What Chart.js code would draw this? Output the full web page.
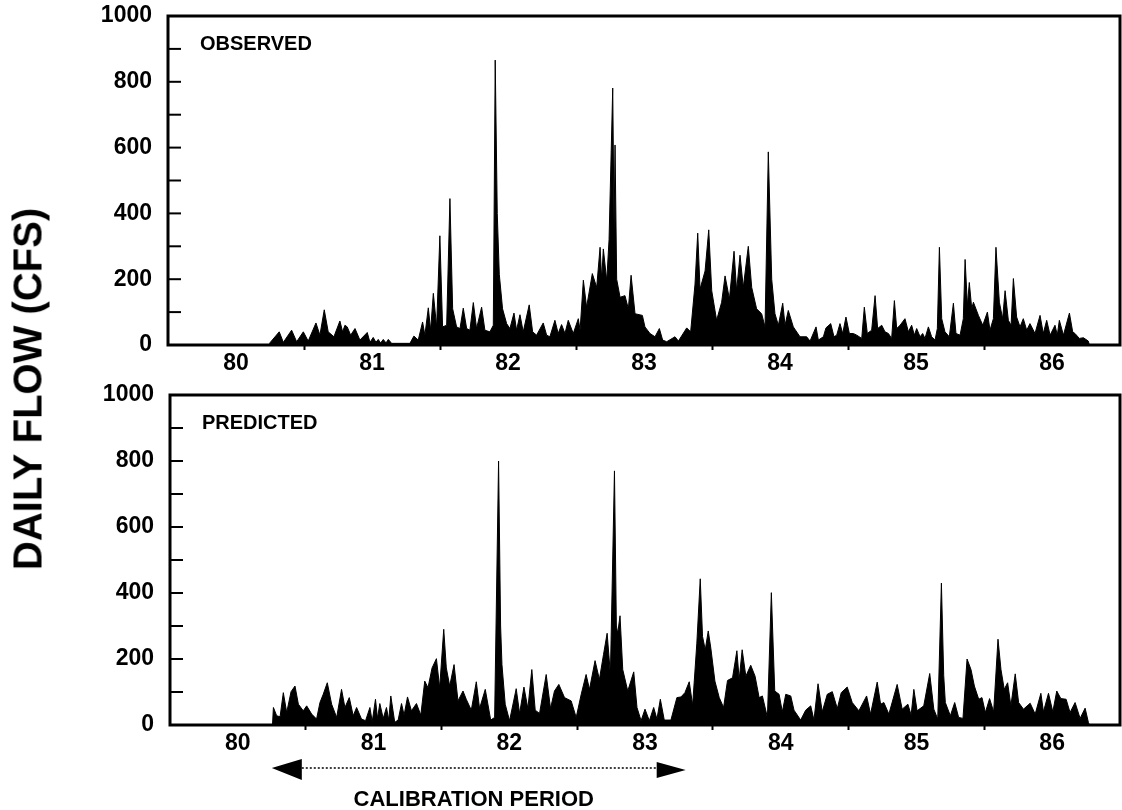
<!DOCTYPE html>
<html>
<head>
<meta charset="utf-8">
<script src="https://cdn.jsdelivr.net/npm/chart.js@4.4.1/dist/chart.umd.min.js"></script>
<style>
    html, body { margin: 0; padding: 0; background: #fff; }
    #wrap { position: relative; width: 1122px; height: 810px; overflow: hidden; }
    #topChart { position: absolute; left: 0; top: 0; }
    #bottomChart { position: absolute; left: 0; top: 380px; }
    #ylabel {
        position: absolute; left: 28px; top: 389px;
        transform: translate(-50%, -50%) rotate(-90deg);
        font: bold 40px "Liberation Sans", Arial, sans-serif;
        white-space: nowrap; color: #000;
    }
</style>
</head>
<body>
<div id="wrap">
    <canvas id="topChart" width="1122" height="380"></canvas>
    <canvas id="bottomChart" width="1122" height="430"></canvas>
    <div id="ylabel">DAILY FLOW (CFS)</div>
</div>
<script>
/** DATA */

const xTickValues = [80, 80.5, 81, 81.5, 82, 82.5, 83, 83.5, 84, 84.5, 85, 85.5, 86, 86.5, 87];
const yTickValues = [0, 100, 200, 300, 400, 500, 600, 700, 800, 900, 1000];
const calibStart = 80.75;
const calibEnd = 83.8;

// observed daily flow (cfs), time in decimal years
const obsYear = [
    80.745, 80.750, 80.818, 80.848, 80.909, 80.946, 80.995, 81.031, 81.088, 81.117,
    81.149, 81.178, 81.220, 81.264, 81.284, 81.301, 81.318, 81.343, 81.375, 81.411,
    81.465, 81.485, 81.509, 81.529, 81.546, 81.563, 81.583, 81.603, 81.620, 81.644,
    81.779, 81.808, 81.840, 81.872, 81.889, 81.914, 81.931, 81.951, 81.975, 81.999,
    82.019, 82.049, 82.073, 82.093, 82.122, 82.147, 82.171, 82.196, 82.220, 82.245,
    82.269, 82.306, 82.330, 82.367, 82.392, 82.406, 82.421, 82.436, 82.460, 82.490,
    82.514, 82.544, 82.563, 82.588, 82.612, 82.656, 82.681, 82.710, 82.759, 82.784,
    82.808, 82.845, 82.869, 82.894, 82.919, 82.943, 82.980, 83.017, 83.030, 83.054,
    83.078, 83.120, 83.152, 83.177, 83.189, 83.201, 83.226, 83.243, 83.270, 83.280,
    83.287, 83.299, 83.324, 83.360, 83.385, 83.405, 83.434, 83.488, 83.507, 83.544,
    83.581, 83.613, 83.637, 83.667, 83.728, 83.753, 83.814, 83.843, 83.875, 83.895,
    83.912, 83.949, 83.976, 83.998, 84.034, 84.071, 84.096, 84.128, 84.162, 84.181,
    84.206, 84.230, 84.267, 84.292, 84.328, 84.365, 84.390, 84.414, 84.439, 84.463,
    84.488, 84.520, 84.537, 84.561, 84.598, 84.647, 84.696, 84.721, 84.765, 84.782,
    84.819, 84.838, 84.873, 84.897, 84.917, 84.941, 84.961, 84.985, 85.010, 85.039,
    85.064, 85.101, 85.120, 85.142, 85.174, 85.199, 85.218, 85.248, 85.272, 85.297,
    85.321, 85.341, 85.358, 85.383, 85.419, 85.444, 85.468, 85.488, 85.505, 85.530,
    85.549, 85.566, 85.591, 85.615, 85.640, 85.657, 85.672, 85.689, 85.713, 85.745,
    85.775, 85.794, 85.824, 85.848, 85.861, 85.878, 85.892, 85.910, 85.922, 85.959,
    85.991, 86.025, 86.044, 86.069, 86.088, 86.113, 86.137, 86.155, 86.179, 86.199,
    86.216, 86.240, 86.265, 86.289, 86.314, 86.338, 86.375, 86.412, 86.436, 86.461,
    86.486, 86.522, 86.539, 86.554, 86.584, 86.628, 86.652, 86.669, 86.701, 86.731,
    86.767, 86.775
];
const obsFlow = [
    0, 7, 40, 8, 45, 10, 40, 12, 67, 30,
    107, 40, 25, 73, 40, 60, 55, 30, 50, 15,
    38, 8, 23, 8, 17, 6, 17, 6, 17, 5,
    5, 27, 15, 70, 30, 113, 45, 157, 55, 332,
    55, 60, 445, 110, 55, 50, 112, 50, 45, 129,
    50, 115, 45, 40, 60, 866, 400, 215, 110, 65,
    50, 97, 45, 92, 40, 122, 40, 30, 67, 30,
    25, 75, 35, 62, 35, 75, 35, 80, 45, 197,
    115, 217, 175, 297, 200, 292, 195, 320, 781, 350,
    608, 200, 145, 150, 110, 212, 95, 90, 55, 35,
    25, 50, 15, 10, 25, 12, 52, 40, 185, 340,
    170, 225, 350, 165, 75, 130, 210, 140, 285, 165,
    273, 175, 300, 175, 110, 95, 55, 587, 200, 95,
    60, 127, 60, 105, 55, 25, 25, 12, 55, 15,
    25, 52, 65, 25, 30, 65, 35, 85, 35, 35,
    30, 20, 115, 35, 45, 150, 50, 60, 40, 35,
    20, 135, 50, 60, 80, 40, 60, 30, 50, 25,
    35, 20, 55, 25, 15, 50, 297, 80, 40, 25,
    127, 35, 30, 80, 260, 120, 190, 110, 130, 90,
    60, 100, 45, 80, 297, 130, 80, 165, 75, 60,
    202, 85, 55, 80, 45, 65, 35, 90, 35, 75,
    30, 60, 30, 75, 30, 97, 40, 35, 20, 22,
    12, 0
];

// predicted daily flow (cfs)
const predYear = [
    80.755, 80.762, 80.786, 80.811, 80.835, 80.860, 80.892, 80.921, 80.946, 80.982,
    81.007, 81.044, 81.080, 81.105, 81.129, 81.159, 81.191, 81.228, 81.264, 81.289,
    81.321, 81.350, 81.375, 81.411, 81.441, 81.473, 81.490, 81.514, 81.529, 81.546,
    81.571, 81.595, 81.612, 81.627, 81.656, 81.681, 81.706, 81.725, 81.750, 81.779,
    81.816, 81.848, 81.877, 81.901, 81.931, 81.963, 81.987, 82.017, 82.036, 82.061,
    82.093, 82.122, 82.159, 82.183, 82.220, 82.257, 82.281, 82.323, 82.363, 82.392,
    82.421, 82.436, 82.446, 82.470, 82.502, 82.551, 82.576, 82.608, 82.637, 82.666,
    82.691, 82.723, 82.772, 82.804, 82.833, 82.865, 82.907, 82.956, 82.993, 83.030,
    83.066, 83.091, 83.132, 83.164, 83.194, 83.221, 83.245, 83.275, 83.289, 83.299,
    83.316, 83.336, 83.373, 83.417, 83.441, 83.471, 83.500, 83.532, 83.564, 83.588,
    83.613, 83.642, 83.691, 83.735, 83.765, 83.794, 83.826, 83.851, 83.882, 83.907,
    83.924, 83.944, 83.966, 83.985, 84.015, 84.047, 84.079, 84.108, 84.145, 84.177,
    84.194, 84.216, 84.243, 84.279, 84.311, 84.341, 84.365, 84.402, 84.431, 84.456,
    84.488, 84.512, 84.537, 84.574, 84.598, 84.647, 84.684, 84.721, 84.745, 84.775,
    84.806, 84.843, 84.880, 84.917, 84.946, 84.990, 85.027, 85.076, 85.133, 85.162,
    85.211, 85.236, 85.260, 85.297, 85.358, 85.395, 85.437, 85.461, 85.481, 85.505,
    85.554, 85.598, 85.628, 85.657, 85.684, 85.701, 85.713, 85.750, 85.782, 85.811,
    85.843, 85.873, 85.902, 85.927, 85.959, 85.983, 86.008, 86.039, 86.069, 86.101,
    86.123, 86.147, 86.172, 86.196, 86.228, 86.253, 86.289, 86.338, 86.375, 86.417,
    86.436, 86.473, 86.505, 86.534, 86.564, 86.603, 86.632, 86.669, 86.706, 86.743,
    86.767, 86.775
];
const predFlow = [
    0, 53, 28, 25, 98, 38, 101, 118, 63, 43,
    58, 33, 18, 68, 93, 128, 63, 23, 108, 53,
    83, 28, 53, 18, 13, 53, 10, 78, 20, 65,
    20, 53, 15, 88, 8, 15, 65, 30, 85, 43,
    65, 30, 133, 113, 173, 201, 113, 290, 173, 118,
    183, 73, 103, 78, 45, 131, 50, 108, 15, 23,
    800, 300, 183, 63, 13, 110, 35, 115, 50, 168,
    45, 35, 153, 50, 103, 123, 83, 73, 23, 93,
    153, 108, 195, 138, 213, 278, 153, 770, 300, 278,
    331, 168, 103, 161, 53, 13, 48, 13, 53, 18,
    78, 15, 15, 83, 85, 98, 131, 60, 248, 443,
    268, 228, 285, 233, 133, 83, 53, 135, 143, 225,
    138, 228, 148, 181, 148, 83, 88, 23, 401, 103,
    93, 40, 93, 88, 45, 15, 45, 58, 15, 125,
    40, 93, 101, 50, 98, 115, 68, 43, 88, 33,
    130, 63, 68, 33, 123, 48, 63, 30, 108, 43,
    58, 156, 48, 18, 430, 150, 68, 28, 68, 23,
    20, 200, 168, 118, 78, 83, 38, 80, 40, 260,
    168, 108, 128, 58, 155, 68, 48, 66, 33, 96,
    40, 96, 40, 103, 80, 78, 38, 68, 20, 51,
    8, 0
];

/** CHART */

const FONT = '"Liberation Sans", Arial, sans-serif';

const toPoints = (xs, ys) => xs.map((x, i) => ({ x: x, y: ys[i] }));

// box round the plot, inner y ticks and the panel name
const frame = {
    id: 'frame',
    afterDatasetsDraw(chart, args, opts) {
        const { ctx, chartArea: a, scales: { y } } = chart;
        ctx.save();
        ctx.strokeStyle = '#000';
        ctx.lineWidth = 3;
        ctx.strokeRect(a.left, a.top, a.right - a.left, a.bottom - a.top);
        ctx.lineWidth = 2;
        y.ticks.forEach(t => {
            const py = y.getPixelForValue(t.value);
            ctx.beginPath();
            ctx.moveTo(a.left, py);
            ctx.lineTo(a.left + 13, py);
            ctx.stroke();
        });
        ctx.fillStyle = '#000';
        ctx.font = 'bold 20px ' + FONT;
        ctx.textBaseline = 'alphabetic';
        ctx.fillText(opts.title, a.left + 32, a.top + 34);
        ctx.restore();
    }
};

// arrow and text under the lower panel
const calibration = {
    id: 'calibration',
    afterDraw(chart) {
        const { ctx, chartArea: a, scales: { x } } = chart;
        const x0 = x.getPixelForValue(calibStart);
        const x1 = x.getPixelForValue(calibEnd);
        const y = a.bottom + 43;
        ctx.save();
        ctx.fillStyle = '#000';
        ctx.strokeStyle = '#000';
        ctx.lineWidth = 1.5;
        ctx.setLineDash([2, 2]);
        ctx.beginPath();
        ctx.moveTo(x0 + 30, y);
        ctx.lineTo(x1 - 29, y);
        ctx.stroke();
        ctx.setLineDash([]);
        ctx.beginPath();
        ctx.moveTo(x0, y);
        ctx.lineTo(x0 + 30, y - 9);
        ctx.lineTo(x0 + 30, y + 12);
        ctx.closePath();
        ctx.fill();
        ctx.beginPath();
        ctx.moveTo(x1, y + 2);
        ctx.lineTo(x1 - 29, y - 6);
        ctx.lineTo(x1 - 29, y + 10);
        ctx.closePath();
        ctx.fill();
        ctx.font = 'bold 22px ' + FONT;
        ctx.textAlign = 'center';
        ctx.fillText('CALIBRATION PERIOD', (x0 + x1) / 2 - 5, a.bottom + 81);
        ctx.restore();
    }
};

const panelOptions = (title, yWidth, xHeight, padTop) => {
    return {
        responsive: false,
        animation: false,
        layout: { padding: { top: padTop, right: 2, left: 0, bottom: 0 } },
        plugins: {
            legend: { display: false },
            tooltip: { enabled: false },
            frame: { title: title }
        },
        scales: {
            x: {
                type: 'linear',
                min: 80,
                max: 87,
                afterBuildTicks: (scale) => { scale.ticks = xTickValues.map(v => ({ value: v })); },
                afterFit: (scale) => {
                    scale.height = xHeight;
                    scale.paddingLeft = 0;
                    scale.paddingRight = 0;
                },
                border: { display: false },
                grid: {
                    drawOnChartArea: false,
                    tickLength: 5,
                    tickWidth: 2,
                    tickColor: (c) => Number.isInteger(c.tick.value) && c.tick.value > 80 && c.tick.value < 87 ? '#000' : 'rgba(0,0,0,0)'
                },
                ticks: {
                    autoSkip: false,
                    maxRotation: 0,
                    padding: 0,
                    color: '#000',
                    font: { family: FONT, size: 23, weight: 'bold' },
                    callback: (v) => Number.isInteger(v) ? '' : String(Math.floor(v))
                }
            },
            y: {
                min: 0,
                max: 1000,
                afterBuildTicks: (scale) => { scale.ticks = yTickValues.map(v => ({ value: v })); },
                afterFit: (scale) => {
                    scale.width = yWidth;
                    scale.paddingTop = 0;
                    scale.paddingBottom = 0;
                },
                border: { display: false },
                grid: { drawOnChartArea: false, drawTicks: false },
                ticks: {
                    padding: 16,
                    color: '#000',
                    font: { family: FONT, size: 23, weight: 'bold' },
                    callback: (v) => v % 200 === 0 ? String(v) : ''
                }
            }
        }
    };
};

const flowDataset = (xs, ys) => {
    return {
        data: toPoints(xs, ys),
        borderColor: '#000',
        backgroundColor: '#000',
        borderWidth: 1,
        pointRadius: 0,
        tension: 0,
        fill: 'origin'
    };
};

new Chart(document.getElementById('topChart'), {
    type: 'line',
    data: { datasets: [flowDataset(obsYear, obsFlow)] },
    options: panelOptions('OBSERVED', 168, 35, 16),
    plugins: [frame]
});

new Chart(document.getElementById('bottomChart'), {
    type: 'line',
    data: { datasets: [flowDataset(predYear, predFlow)] },
    options: panelOptions('PREDICTED', 170, 85, 15),
    plugins: [frame, calibration]
});
</script>
</body>
</html>
